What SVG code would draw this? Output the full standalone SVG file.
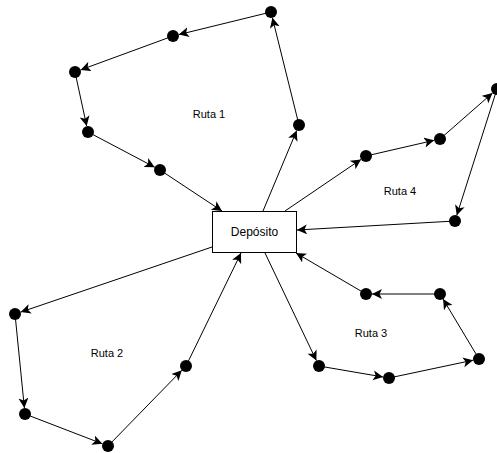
<svg xmlns="http://www.w3.org/2000/svg" width="497" height="453" viewBox="0 0 497 453">
  <style>
    .edge { fill: none; stroke: #000; stroke-width: 1; marker-end: url(#arrow); }
    .stop { fill: #000; }
    .depot { fill: #fff; stroke: #000; stroke-width: 1; }
    .label { font-family: "Liberation Sans", Arial, sans-serif; font-size: 12px; fill: #000; text-anchor: middle; dominant-baseline: central; }
    .route { font-size: 11px; }
  </style>
  <defs>
    <marker id="arrow" markerUnits="userSpaceOnUse" markerWidth="11" markerHeight="11" refX="10" refY="5" orient="auto">
      <path d="M0,0 L10,5 L0,10 L2.5,5 Z" fill="#000"/>
    </marker>
  </defs>

  <!-- connectors -->
  <g id="connectors">
    <!-- Ruta 1 -->
    <line class="edge" x1="263" y1="211" x2="296.7" y2="130.5"/>
    <line class="edge" x1="299" y1="125" x2="272.4" y2="17.8"/>
    <line class="edge" x1="271" y1="12" x2="178.8" y2="34.6"/>
    <line class="edge" x1="173" y1="36" x2="80.6" y2="69.9"/>
    <line class="edge" x1="75" y1="72" x2="86.7" y2="126.1"/>
    <line class="edge" x1="88" y1="132" x2="154.7" y2="167.2"/>
    <line class="edge" x1="160" y1="170" x2="222" y2="211"/>
    <!-- Ruta 4 -->
    <line class="edge" x1="285" y1="211" x2="361" y2="159.4"/>
    <line class="edge" x1="366" y1="156" x2="434.2" y2="140.3"/>
    <line class="edge" x1="440" y1="139" x2="492.5" y2="93"/>
    <line class="edge" x1="497" y1="89" x2="456.8" y2="215.3"/>
    <line class="edge" x1="455" y1="221" x2="297" y2="230"/>
    <!-- Ruta 3 -->
    <line class="edge" x1="265" y1="253" x2="316.4" y2="360.6"/>
    <line class="edge" x1="319" y1="366" x2="383.1" y2="377"/>
    <line class="edge" x1="389" y1="378" x2="473.1" y2="360.2"/>
    <line class="edge" x1="479" y1="359" x2="443.1" y2="299.1"/>
    <line class="edge" x1="440" y1="294" x2="372" y2="294"/>
    <line class="edge" x1="366" y1="294" x2="296" y2="253"/>
    <!-- Ruta 2 -->
    <line class="edge" x1="212" y1="247" x2="20.7" y2="312.1"/>
    <line class="edge" x1="15" y1="314" x2="24.4" y2="408"/>
    <line class="edge" x1="25" y1="414" x2="102.4" y2="443.8"/>
    <line class="edge" x1="108" y1="446" x2="181.8" y2="370.3"/>
    <line class="edge" x1="186" y1="366" x2="241" y2="253"/>
  </g>

  <!-- depot -->
  <g id="deposito">
    <rect class="depot" x="212.5" y="211.5" width="84" height="41"/>
    <text class="label" x="254.5" y="232">Depósito</text>
  </g>

  <!-- Ruta 1 stops -->
  <g id="r1-a"><circle class="stop" cx="299" cy="125" r="6"/></g>
  <g id="r1-b"><circle class="stop" cx="271" cy="12" r="6"/></g>
  <g id="r1-c"><circle class="stop" cx="173" cy="36" r="6"/></g>
  <g id="r1-d"><circle class="stop" cx="75" cy="72" r="6"/></g>
  <g id="r1-e"><circle class="stop" cx="88" cy="132" r="6"/></g>
  <g id="r1-f"><circle class="stop" cx="160" cy="170" r="6"/></g>

  <!-- Ruta 4 stops -->
  <g id="r4-a"><circle class="stop" cx="366" cy="156" r="6"/></g>
  <g id="r4-b"><circle class="stop" cx="440" cy="139" r="6"/></g>
  <g id="r4-c"><circle class="stop" cx="497" cy="89" r="6"/></g>
  <g id="r4-d"><circle class="stop" cx="455" cy="221" r="6"/></g>

  <!-- Ruta 3 stops -->
  <g id="r3-a"><circle class="stop" cx="319" cy="366" r="6"/></g>
  <g id="r3-b"><circle class="stop" cx="389" cy="378" r="6"/></g>
  <g id="r3-c"><circle class="stop" cx="479" cy="359" r="6"/></g>
  <g id="r3-d"><circle class="stop" cx="440" cy="294" r="6"/></g>
  <g id="r3-e"><circle class="stop" cx="366" cy="294" r="6"/></g>

  <!-- Ruta 2 stops -->
  <g id="r2-a"><circle class="stop" cx="15" cy="314" r="6"/></g>
  <g id="r2-b"><circle class="stop" cx="25" cy="414" r="6"/></g>
  <g id="r2-c"><circle class="stop" cx="108" cy="446" r="6"/></g>
  <g id="r2-d"><circle class="stop" cx="186" cy="366" r="6"/></g>

  <!-- route labels -->
  <g id="labels">
    <text class="label route" x="209" y="114">Ruta 1</text>
    <text class="label route" x="107" y="353">Ruta 2</text>
    <text class="label route" x="371" y="333">Ruta 3</text>
    <text class="label route" x="400" y="191">Ruta 4</text>
  </g>
</svg>
